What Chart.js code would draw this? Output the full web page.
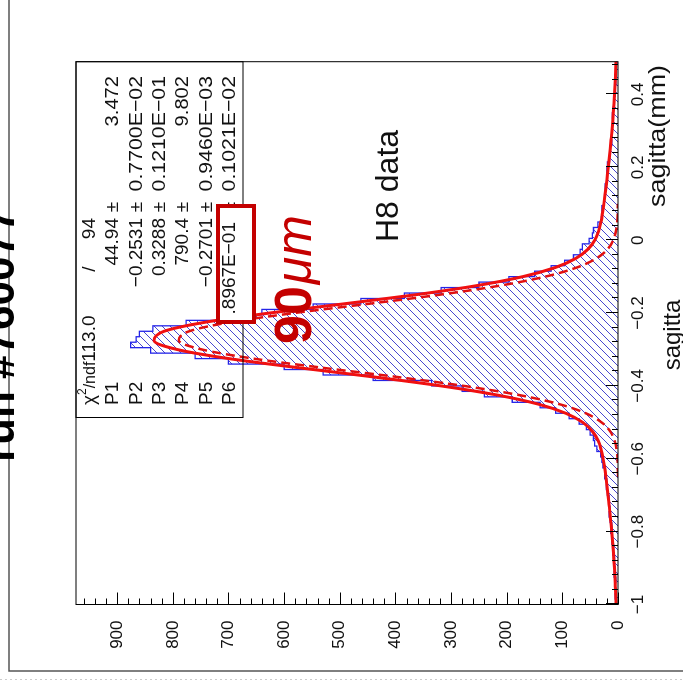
<!DOCTYPE html>
<html lang="pt-BR">
<head>
<meta charset="UTF-8">
<title>sagitta - H8 data</title>
<script src="https://cdn.jsdelivr.net/npm/chart.js"></script>
<style>
  html, body { margin: 0; padding: 0; background: #fff; overflow: hidden; }
  #wrap { position: relative; width: 683px; height: 684px; overflow: hidden; }
  /* o grafico original esta girado 90 graus (anti-horario) */
  #grafico { position: absolute; left: 0; top: 0; transform-origin: 0 0; transform: translate(0, 684px) rotate(-90deg); }
</style>
</head>
<body>
<div id="wrap"><canvas id="grafico" width="684" height="683"></canvas></div>
<script>
// histograma: 100 bins de -1 a 0.5
const binInicio = -1;
const binLargura = 0.015;
const contagens = [
  3, 5, 4, 6, 4, 7, 5, 8, 6, 9,
  8, 11, 10, 13, 11, 14, 16, 14, 17, 16,
  19, 21, 20, 24, 23, 27, 29, 31, 38, 42,
  44, 50, 57, 70, 88, 112, 140, 190, 240, 280,
  335, 440, 530, 600, 700, 760, 840, 876, 866, 860,
  836, 776, 716, 640, 548, 462, 384, 318, 250, 196,
  150, 120, 96, 80, 68, 64, 52, 46, 44, 36,
  30, 28, 29, 25, 24, 23, 23, 19, 20, 20,
  19, 15, 14, 14, 11, 12, 10, 11, 9, 10,
  9, 7, 8, 5, 6, 4, 5, 3, 4, 2
];

// curva do ajuste (linha cheia) e componente estreita (tracejada)
const ajusteX = [
  -1, -0.975, -0.95, -0.925, -0.9, -0.875, -0.85, -0.825, -0.8, -0.775,
  -0.75, -0.725, -0.7, -0.675, -0.65, -0.625, -0.6, -0.575, -0.55, -0.525,
  -0.5, -0.475, -0.45, -0.425, -0.4, -0.375, -0.35, -0.325, -0.3, -0.275,
  -0.25, -0.225, -0.2, -0.175, -0.15, -0.125, -0.1, -0.075, -0.05, -0.025,
  0, 0.025, 0.05, 0.075, 0.1, 0.125, 0.15, 0.175, 0.2, 0.225,
  0.25, 0.275, 0.3, 0.325, 0.35, 0.375, 0.4, 0.425, 0.45, 0.475, 0.5
];
const ajusteTotal = [
  3.4, 4.0, 4.8, 5.6, 6.5, 7.5, 8.7, 9.9, 11.3, 12.8,
  14.3, 16.1, 17.9, 19.8, 21.8, 24.0, 26.7, 30.3, 35.9, 45.8,
  63.4, 93.9, 143.2, 217.0, 317.5, 440.7, 574.5, 699.2, 792.2, 834.0,
  815.7, 741.3, 626.7, 494.2, 365.1, 255.1, 171.0, 112.9, 76.0, 54.2,
  41.9, 34.9, 30.7, 27.8, 25.4, 23.2, 21.2, 19.3, 17.4, 15.6,
  13.9, 12.4, 10.9, 9.6, 8.4, 7.3, 6.3, 5.4, 4.6, 3.9, 3.3
];
// de -0.65 a 0.1
const ajusteEstreito = [
  0.1, 0.3, 0.9, 2.4, 6.1, 13.9, 29.5, 58.1, 105.6, 177.8,
  276.8, 398.8, 531.5, 655.3, 747.7, 789.2, 770.8, 696.5, 582.3, 450.5,
  322.3, 213.4, 130.7, 74.1, 38.9, 18.9, 8.5, 3.5, 1.4, 0.5, 0.2
];

const xTicks = [-1, -0.8, -0.6, -0.4, -0.2, 0, 0.2, 0.4];
const yTicks = [0, 100, 200, 300, 400, 500, 600, 700, 800, 900];
const xMin = -1, xMax = 0.49, yMax = 974;

const statRotulos = ['P1', 'P2', 'P3', 'P4', 'P5', 'P6'];
const statValores = ['44.94', '\u22120.2531', '0.3288', '790.4', '\u22120.2701', '.8967E\u221201'];
const statErros = ['3.472', '0.7700E\u221202', '0.1210E\u221201', '9.802', '0.9460E\u221203', '0.1021E\u221202'];

const fonte = '"Liberation Sans", Arial, Helvetica, sans-serif';

// pontos do histograma em degraus
const pontosHist = [{ x: binInicio, y: 0 }];
contagens.forEach((c, i) => pontosHist.push({ x: binInicio + i * binLargura, y: c }));
pontosHist.push({ x: binInicio + contagens.length * binLargura, y: contagens[contagens.length - 1] });
pontosHist.push({ x: binInicio + contagens.length * binLargura, y: 0 });

const pontosTotal = ajusteX.map((x, i) => ({ x: x, y: ajusteTotal[i] }));
const pontosEstreito = ajusteEstreito.map((y, i) => ({ x: ajusteX[14 + i], y: y }));

// padrao de hachura
const hachura = (() => {
  const p = document.createElement('canvas');
  p.width = 8; p.height = 8;
  const c = p.getContext('2d');
  c.strokeStyle = '#4848d0';
  c.lineWidth = 1;
  c.beginPath();
  c.moveTo(0, 8); c.lineTo(8, 0);
  c.moveTo(-1, 1); c.lineTo(1, -1);
  c.moveTo(7, 9); c.lineTo(9, 7);
  c.stroke();
  return c.createPattern(p, 'repeat');
})();

const menos = v => String(v).replace('-', '\u2212');

// texto com esticamento horizontal opcional
function texto(ctx, s, x, y, font, align, cor, escala) {
  ctx.save();
  ctx.font = font;
  ctx.textAlign = align || 'left';
  ctx.fillStyle = cor || '#111';
  ctx.translate(x, y);
  ctx.scale(escala || 1, 1);
  ctx.fillText(s, 0, 0);
  ctx.restore();
}

const decoracao = {
  id: 'decoracao',
  afterDraw(chart) {
    const ctx = chart.ctx;
    const a = chart.chartArea;
    const sx = chart.scales.x, sy = chart.scales.y;
    ctx.save();

    // moldura externa
    ctx.strokeStyle = '#555';
    ctx.lineWidth = 1.5;
    ctx.beginPath();
    ctx.moveTo(13, 683); ctx.lineTo(13, 9); ctx.lineTo(684, 9);
    ctx.stroke();
    ctx.strokeStyle = '#ccc';
    ctx.lineWidth = 1;
    ctx.setLineDash([2, 3]);
    ctx.beginPath();
    ctx.moveTo(4.5, 0); ctx.lineTo(4.5, 683);
    ctx.stroke();
    ctx.setLineDash([]);

    // titulo cortado
    ctx.textBaseline = 'alphabetic';
    texto(ctx, 'run #760077', 222, 14, 'bold 44px ' + fonte, 'left', '#000');

    // quadro do grafico
    ctx.strokeStyle = '#000';
    ctx.lineWidth = 1;
    ctx.strokeRect(a.left, a.top, a.right - a.left, a.bottom - a.top);

    // marcas dos eixos
    ctx.beginPath();
    for (let i = 0; i * 20 <= yMax; i++) {
      const py = Math.round(sy.getPixelForValue(i * 20)) + 0.5;
      const len = i % 5 === 0 ? 12 : 6;
      ctx.moveTo(a.left, py); ctx.lineTo(a.left + len, py);
    }
    for (let i = 0; xMin + i * 0.04 <= xMax + 1e-9; i++) {
      const px = Math.round(sx.getPixelForValue(xMin + i * 0.04)) + 0.5;
      const len = i % 5 === 0 ? 12 : 6;
      ctx.moveTo(px, a.bottom); ctx.lineTo(px, a.bottom - len);
    }
    ctx.stroke();

    // titulos do eixo x
    ctx.textBaseline = 'middle';
    texto(ctx, 'sagitta(mm)', 619, 658, '24px ' + fonte, 'right', '#111', 1.12);
    texto(ctx, 'sagitta', 349, 673, '24px ' + fonte, 'center');

    // caixa de estatisticas
    ctx.strokeStyle = '#000';
    ctx.lineWidth = 1;
    ctx.strokeRect(266.5, a.top, a.right - 266.5, 243 - a.top);
    const linhas = [90, 113, 137, 160, 183, 207, 230];
    const f = '19px ' + fonte;
    // chi2/ndf
    ctx.font = f;
    let u = 279;
    texto(ctx, '\u03c7', u, linhas[0], f, 'left');
    u += ctx.measureText('\u03c7').width;
    texto(ctx, '2', u, linhas[0] - 7, '12px ' + fonte, 'left');
    ctx.font = '12px ' + fonte;
    u += ctx.measureText('2').width;
    texto(ctx, '/ndf', u, linhas[0] + 1, '16px ' + fonte, 'left');
    ctx.font = '16px ' + fonte;
    u += ctx.measureText('/ndf').width;
    texto(ctx, '113.0', u, linhas[0], f, 'left');
    texto(ctx, '/', 415, linhas[0], f, 'center');
    texto(ctx, '94', 466, linhas[0], f, 'right');
    statRotulos.forEach((r, i) => {
      const v = linhas[i + 1];
      texto(ctx, r, 279, v, f, 'left');
      if (i < 5) texto(ctx, statValores[i], 466, v, f, 'right');
      texto(ctx, '\u00b1', 477, v, f, 'center');
      texto(ctx, statErros[i], 608, v, f, 'right', '#111', statErros[i].includes('E') ? 1.12 : 1.06);
    });

    // caixa vermelha
    ctx.fillStyle = '#fff';
    ctx.fillRect(362, 218, 116, 36);
    ctx.strokeStyle = '#c40000';
    ctx.lineWidth = 4;
    ctx.strokeRect(362, 218, 116, 36);
    texto(ctx, statValores[5], 462, linhas[6], f, 'right');

    // textos
    ctx.textBaseline = 'alphabetic';
    texto(ctx, 'H8 data', 442, 398, '32px ' + fonte, 'left');
    texto(ctx, '90', 340, 311, 'bold 52px ' + fonte, 'left', '#c40000');
    ctx.font = 'bold 52px ' + fonte;
    const w90 = ctx.measureText('90').width;
    texto(ctx, '\u03bcm', 340 + w90 + 2, 311, 'italic 50px ' + fonte, 'left', '#c40000');

    ctx.restore();
  }
};

new Chart(document.getElementById('grafico').getContext('2d'), {
  type: 'line',
  data: {
    datasets: [
      {
        data: pontosTotal,
        borderColor: '#f01010',
        borderWidth: 3,
        pointRadius: 0,
        fill: false,
        cubicInterpolationMode: 'monotone'
      },
      {
        data: pontosEstreito,
        borderColor: '#e01010',
        borderWidth: 2.5,
        borderDash: [9, 5],
        pointRadius: 0,
        fill: false,
        cubicInterpolationMode: 'monotone'
      },
      {
        data: pontosHist,
        borderColor: '#2424e8',
        borderWidth: 1.3,
        backgroundColor: hachura,
        pointRadius: 0,
        fill: 'origin',
        stepped: 'before'
      }
    ]
  },
  options: {
    responsive: false,
    animation: false,
    devicePixelRatio: 1,
    layout: { padding: { left: 0, top: 76, right: 61.7, bottom: 0 } },
    plugins: { legend: { display: false }, tooltip: { enabled: false } },
    scales: {
      x: {
        type: 'linear', min: xMin, max: xMax,
        grid: { display: false, drawTicks: false },
        border: { display: false },
        afterBuildTicks: s => { s.ticks = xTicks.map(v => ({ value: v })); },
        afterFit: s => { s.height = 65; },
        ticks: {
          padding: 10, maxRotation: 0, autoSkip: false, color: '#111',
          font: { family: fonte, size: 17 },
          callback: v => menos(v)
        }
      },
      y: {
        type: 'linear', min: 0, max: yMax,
        grid: { display: false, drawTicks: false },
        border: { display: false },
        afterBuildTicks: s => { s.ticks = yTicks.map(v => ({ value: v })); },
        afterFit: s => { s.width = 79.5; },
        ticks: {
          padding: 16, autoSkip: false, color: '#111',
          font: { family: fonte, size: 17 },
          callback: v => menos(v)
        }
      }
    }
  },
  plugins: [decoracao]
});
</script>
</body>
</html>
